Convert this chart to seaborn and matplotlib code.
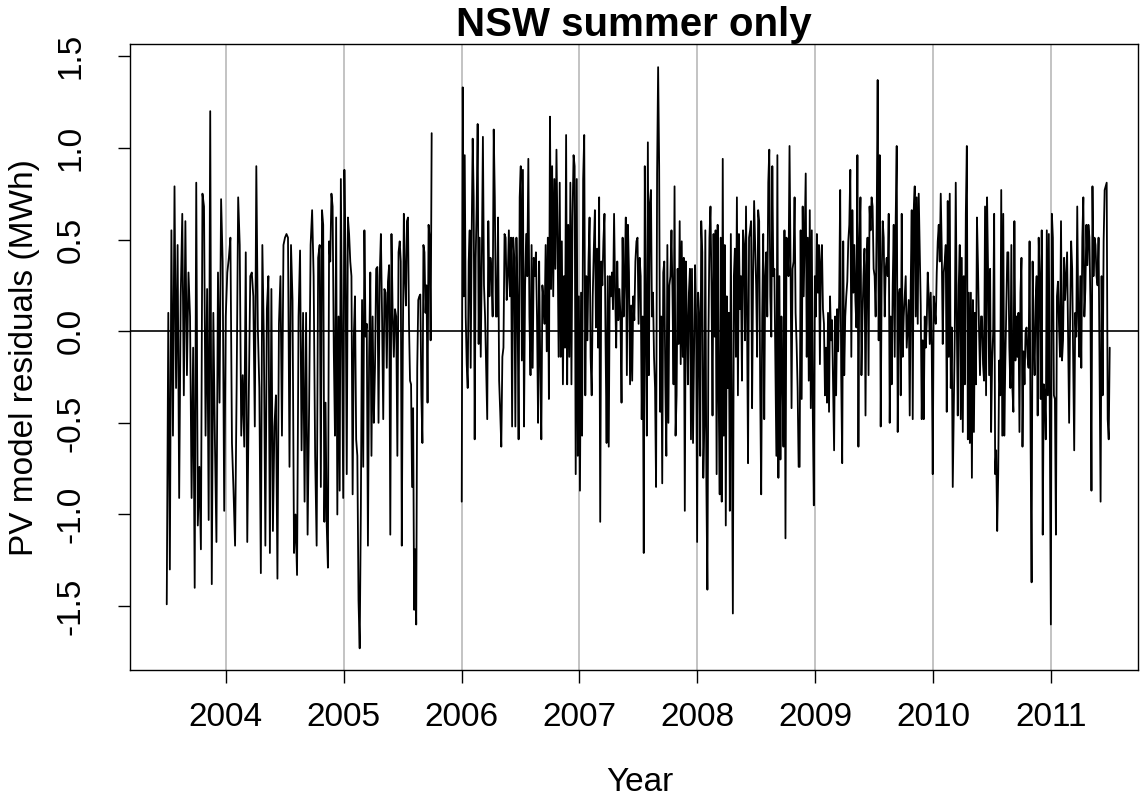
import numpy as np
import pandas as pd
import matplotlib
matplotlib.use("Agg")
import matplotlib.pyplot as plt
import seaborn as sns

# ---- data: residuals (MWh), grouped by time chunks ----
seg1_edges = [2003.500, 2004.119, 2004.797, 2005.476, 2005.747]
seg2_edges = [2006.002, 2006.154, 2006.833, 2007.511, 2008.190, 2008.868,
              2009.547, 2010.226, 2010.904, 2011.498]

c01 = [-1.49, 0.10, -1.30, 0.55, -0.57, 0.79, -0.31, 0.47, -0.91, 0.19, 0.64, -0.35, 0.60,
       -0.24, 0.32, 0.08, -0.91, -0.09, -1.40, 0.81, -1.06, -0.74, -1.19, 0.75, 0.68, -0.57,
       0.23, -1.03, 1.20, -1.38, 0.10, -0.59, -1.15, 0.32, -0.39, 0.72, 0.38, -0.98, 0.08,
       0.32, 0.40, 0.51, -0.61, -0.87, -1.17, -0.31, 0.73]
c02 = [0.47, -0.57, -0.24, -0.63, 0.43, -1.15, -0.35, 0.30, 0.32, 0.19, -0.52, 0.90, 0.02,
       -0.31, -1.32, 0.47, -0.05, -1.17, 0.12, 0.30, -1.21, 0.23, -1.09, -0.52, -0.35, -1.35,
       0.04, 0.30, -0.57, 0.47, 0.51, 0.53, 0.51, -0.74, 0.47, 0.17, -1.21, -1.00, -1.33,
       0.08, 0.44, -0.65, 0.10, -0.93, 0.10, -1.11, -0.42, 0.47, 0.66, 0.30, -0.68, -1.17, 0.40]
c03 = [0.47, -0.85, 0.66, 0.58, -1.04, -0.39, -1.06, -1.29, 0.49, 0.38, 0.75, 0.68, -0.11,
       -0.57, 0.62, -1.00, 0.08, -0.87, 0.83, -0.03, -0.91, 0.88, 0.36, -0.78, 0.62, 0.53,
       0.38, 0.30, -0.89, -0.03, 0.19, -0.59, -0.68, -1.47, -1.73, -0.96, 0.17, -0.74, 0.55,
       -0.03, 0.04, -1.17, -0.14, 0.32, -0.68, 0.08, -0.50, -0.20, 0.34, 0.35, -0.50, 0.30,
       0.53, 0.08, -0.48, 0.23, 0.21, -0.20, 0.27, 0.36, -1.11, 0.53, 0.10, -0.14, 0.12, 0.08,
       -0.68, 0.43]
c04a = [0.49, 0.38, -1.17, -0.09, 0.64, 0.30, 0.14, 0.60, 0.62, 0.04, -0.27, -0.29, -0.85,
        -0.42, -1.52, -1.19, -1.60, -0.20, 0.17, 0.19, 0.20, -0.35, -0.61, 0.47, 0.43, 0.10,
        0.25, -0.39, 0.58, 0.51, -0.05, 1.08]
c04b = [-0.93, 1.33, 0.19, 0.96, 0.08, -0.18, -0.31, 0.38, 0.55, -0.20, 0.53, 1.05, 0.73,
        -0.59, 0.40, 0.68, 1.13, -0.07]
c05 = [0.51, -0.14, 0.38, 1.06, 0.25, 0.08, -0.20, -0.48, 0.60, 0.19, 0.40, 0.32, 0.08, 1.10,
       0.73, 0.08, 0.08, 0.62, -0.27, -0.44, -0.63, -0.14, -0.09, 0.53, 0.51, 0.17, 0.30, 0.55,
       0.19, 0.51, -0.52, 0.51, 0.40, -0.52, 0.51, 0.17, -0.59, 0.73, 0.90, -0.16, 0.88, -0.52,
       0.25, 0.53, 0.30, 0.94, 0.08, -0.24, 0.47, -0.20, 0.40, 0.30, 0.43, 0.08, -0.50, 0.38,
       -0.18, -0.59, 0.25, 0.17, 0.04, 0.47, -0.11, 0.51, -0.37, 1.17, 0.23, 0.90, 0.19, 0.83,
       0.34, 0.99, 0.51, -0.14]
c06 = [0.81, -0.14, 0.49, -0.29, 0.30, -0.09, 1.07, -0.29, 0.58, -0.14, 0.81, -0.29, 0.62,
       0.96, 0.90, -0.78, 0.83, -0.68, 0.19, -0.87, 0.21, -0.57, 0.83, 1.07, -0.35, 0.30,
       -0.05, 0.38, 0.62, -0.14, -0.35, 0.19, 0.45, 0.66, 0.02, 0.45, -0.09, 0.73, -1.04, 0.38,
       0.25, 0.49, 0.64, -0.05, -0.61, 0.30, -0.63, 0.30, 0.19, 0.32, 0.12, 0.64, 0.21, -0.09,
       0.38, 0.06, 0.23, 0.08, -0.39, 0.51, 0.08, 0.30, 0.62, -0.24, 0.58, 0.32, -0.29, 0.14,
       -0.27, 0.19, 0.06, 0.38, 0.49, 0.51, 0.04]
c07 = [0.40, 0.30, -0.48, 0.08, -1.21, 0.90, 0.04, -0.57, 1.03, -0.24, 0.70, 0.77, 0.08, 0.21,
       -0.14, -0.31, -0.85, 0.86, 1.44, 0.90, -0.44, 0.08, -0.83, 0.32, 0.38, -0.29, -0.68,
       0.47, -0.50, 0.25, 0.30, 0.55, 0.21, -0.29, 0.79, -0.57, -0.35, 0.34, -0.07, 0.60,
       -0.18, 0.49, -0.14, 0.40, -0.98, 0.38, 0.08, -0.29, 0.21, 0.34, -0.59, 0.34, -0.61,
       -0.14, 0.36, 0.08, -1.15, 0.21, 0.08, -0.68, 0.60, 0.43, -0.80, -0.52, 0.55, -0.83,
       -1.41, -0.05, 0.51, 0.68, 0.25, -0.46, 0.53, -0.03, 0.55, -0.78, 0.58, -0.35]
c08 = [-0.89, 0.51, -0.93, 0.94, -0.57, 0.47, -1.06, 0.19, -0.31, 0.10, -0.98, 0.53, -0.50,
       -1.54, 0.30, 0.45, -0.14, 0.73, -0.35, 0.53, 0.12, 0.30, -0.27, 0.55, 0.47, -0.05, 0.68,
       0.08, -0.72, 0.51, 0.55, 0.60, -0.42, 0.30, 0.71, 0.47, 0.25, -0.14, 0.66, 0.60, -0.31,
       -0.89, 0.08, 0.53, -0.48, 0.30, 0.43, 0.08, 0.81, 0.99, 0.19, -0.03, 0.90, 0.30, 0.34,
       -0.18, -0.68, 0.96, -0.80, 0.30, -0.70, 0.08, -0.24, -0.63, 0.55, -1.13, 0.51, 0.47,
       0.30, 1.01, 0.38, -0.42, 0.34, 0.38, 0.73, 0.10, -0.07, -0.31, -0.74]
c09 = [-0.74, 0.55, -0.37, 0.68, 0.19, 0.51, 0.86, -0.14, 0.51, -0.27, 0.66, -0.42, 0.55,
       -0.46, -0.95, 0.30, 0.08, 0.53, 0.21, 0.47, -0.18, 0.38, 0.47, 0.12, 0.04, -0.35, -0.09,
       -0.39, 0.10, -0.44, 0.19, -0.05, 0.06, -0.31, -0.65, 0.08, -0.35, 0.12, -0.11, 0.17,
       0.77, -0.24, -0.72, 0.49, -0.24, 0.08, 0.19, 0.27, 0.49, 0.58, 0.88, -0.14, 0.66, 0.21,
       0.47, 0.17, 0.02, 0.96, -0.63, 0.49, 0.73, -0.24, 0.08, 0.30, 0.45, -0.46, 0.36, 0.51,
       -0.24, 0.68, 0.55, 0.73, 0.68, 0.34, 0.30, 0.08, 0.58, 1.37, -0.05]
c10 = [0.96, -0.52, 0.30, 0.60, 0.51, 0.08, 0.34, 0.40, 0.30, 0.64, -0.50, 0.08, -0.29, 0.25,
       0.58, -0.14, 0.62, 1.01, -0.55, 0.19, 0.23, -0.35, 0.64, -0.14, 0.08, 0.19, 0.30, -0.09,
       0.04, 0.17, -0.46, 0.25, 0.66, -0.48, 0.66, 0.79, 0.08, 0.73, 0.04, 0.75, 0.43, 0.14,
       -0.48, -0.05, -0.48, 0.08, -0.09, 0.04, 0.32, 0.19, -0.07, 0.21, -0.09, -0.78, 0.19,
       0.12, 0.04, 0.32, 0.49, 0.58, 0.38, 0.75, 0.45, -0.07, 0.32, 0.38, 0.47, -0.44, 0.71,
       -0.14, 0.75, -0.31, 0.02, -0.85, -0.46, -0.03, 0.81, 0.08, -0.46, 0.25]
c11 = [0.47, -0.48, 0.40, -0.55, 0.30, -0.29, 0.64, 1.01, -0.59, 0.21, -0.61, 0.21, -0.80,
       0.17, -0.55, 0.10, -0.29, 0.62, 0.36, 0.02, -0.24, 0.08, 0.08, -0.18, -0.27, 0.68,
       -0.35, 0.73, 0.32, -0.24, 0.34, -0.55, -0.16, -0.01, 0.64, -0.78, -0.65, -1.09, -0.78,
       -0.16, -0.35, 0.77, -0.57, 0.64, -0.57, -0.18, 0.12, 0.43, 0.43, -0.09, -0.31, 0.47,
       -0.31, -0.44, 0.60, -0.16, 0.08, -0.14, 0.10, -0.55, 0.21, 0.40, -0.63, -0.11, -0.29,
       -0.01, 0.02, -0.14, -0.20, 0.49, -0.59, -1.37, 0.38, -0.05, -0.24, 0.17, 0.30, -0.46, 0.51]
c12 = [0.30, -0.37, 0.55, -1.11, -0.29, -0.35, -0.59, 0.55, -0.35, 0.53, -0.57, -1.60, 0.64,
       0.51, -0.35, -0.37, -1.11, 0.19, 0.27, 0.04, -0.14, 0.60, -0.16, -0.05, 0.40, 0.17,
       0.30, 0.43, -0.03, -0.50, 0.08, 0.49, 0.34, -0.14, -0.65, 0.10, -0.03, 0.68, 0.08,
       -0.14, 0.30, -0.20, 0.51, 0.73, 0.08, 0.23, 0.58, 0.36, 0.58, 0.51, 0.14, -0.87, 0.79,
       0.30, 0.51, 0.47, 0.30, 0.25, 0.51, -0.22, -0.93, 0.30, -0.35, 0.49, 0.77, 0.79, 0.81,
       -0.48, -0.59, -0.09]

seg1_chunks = [c01, c02, c03, c04a]
seg2_chunks = [c04b, c05, c06, c07, c08, c09, c10, c11, c12]

year_ticks = [2004, 2005, 2006, 2007, 2008, 2009, 2010, 2011]
y_ticks = [-1.5, -1.0, -0.5, 0.0, 0.5, 1.0, 1.5]
y_ticklabels = ["-1.5", "-1.0", "-0.5", "0.0", "0.5", "1.0", "1.5"]


def build(chunks, edges, seg_id):
    rows = []
    for i, vals in enumerate(chunks):
        last = i == len(chunks) - 1
        t = np.linspace(edges[i], edges[i + 1], len(vals), endpoint=last)
        rows.append(pd.DataFrame({"Year": t, "resid": vals, "segment": seg_id}))
    return pd.concat(rows)


df = pd.concat([build(seg1_chunks, seg1_edges, 1), build(seg2_chunks, seg2_edges, 2)],
               ignore_index=True)

sns.set_style("ticks")
plt.rcParams["font.family"] = ["Liberation Sans", "DejaVu Sans"]
plt.rcParams["text.color"] = "black"

fig = plt.figure(figsize=(11.48, 7.98), dpi=100)
ax = fig.add_axes([0.113, 0.160, 0.991 - 0.113, 0.945 - 0.160])

for yr in year_ticks:
    ax.axvline(yr, color="#bebebe", lw=1.3, zorder=0)
ax.axhline(0, color="black", lw=1.2, zorder=1)

sns.lineplot(data=df, x="Year", y="resid", units="segment", estimator=None,
             color="black", lw=1.3, ax=ax, zorder=2, legend=False)

ax.set_xlim(2003.186, 2011.735)
ax.set_ylim(-1.850, 1.567)
ax.set_xticks(year_ticks)
ax.set_xticklabels([str(y) for y in year_ticks])
ax.set_yticks(y_ticks)
ax.set_yticklabels(y_ticklabels, rotation=90, va="center")

for s in ax.spines.values():
    s.set_visible(True)
    s.set_color("black")
    s.set_linewidth(1.0)

ax.tick_params(axis="both", direction="out", length=9, width=1.0, colors="black",
               labelsize=24)
ax.tick_params(axis="x", pad=14)
ax.tick_params(axis="y", pad=22)

ax.set_xlabel("Year", fontsize=24, color="black", va="center")
ax.set_ylabel("PV model residuals (MWh)", fontsize=24, color="black", va="center")
ax.xaxis.set_label_coords((604 + 675) / 2 / 1148 * 0 + (640 - 130) / 1008, (670 - 782) / 626)
ax.yaxis.set_label_coords((25 - 130) / 1008, 0.5 + (331 - 357) / 626 * 0 + (357 - 357) / 626)
ax.set_title("NSW summer only", fontsize=29, fontweight="bold", pad=5, color="black")

fig.savefig("out.png", dpi=100)
